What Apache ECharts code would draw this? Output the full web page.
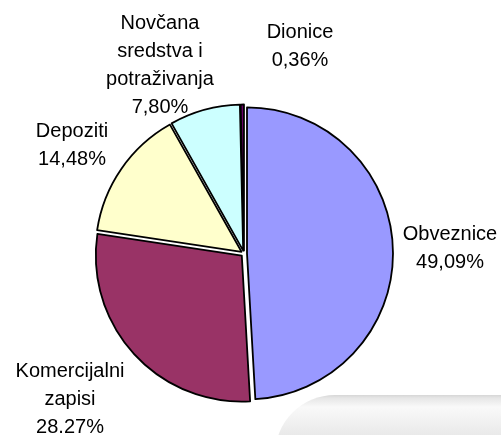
<!DOCTYPE html>
<html>
<head>
<meta charset="utf-8">
<script src="https://cdn.jsdelivr.net/npm/echarts@6/dist/echarts.min.js"></script>
<style>
html,body{margin:0;padding:0;background:#fff;}
#c{width:501px;height:435px;}
</style>
</head>
<body>
<div id="c"></div>
<script>
const categories = ['Obveznice', 'Komercijalni\nzapisi', 'Depoziti', 'Novčana\nsredstva i\npotraživanja', 'Dionice'];
const values = [49.09, 28.27, 14.48, 7.80, 0.36];
const valueLabels = ['49,09%', '28.27%', '14,48%', '7,80%', '0,36%'];
const colors = ['#9999FF', '#993366', '#FFFFCC', '#CCFFFF', '#660066'];

// label block centres (layout, not data)
const labelPos = [[450, 248], [70, 399], [72, 145], [160, 65], [300, 46]];

const labelGraphics = categories.map((n, i) => ({
  type: 'text',
  silent: true,
  z: 10,
  x: labelPos[i][0],
  y: labelPos[i][1],
  style: {
    text: n + '\n' + valueLabels[i],
    fontFamily: 'Liberation Sans',
    fontSize: 20,
    lineHeight: 28,
    fill: '#000',
    align: 'center',
    verticalAlign: 'middle'
  }
}));

const chart = echarts.init(document.getElementById('c'), null, {renderer: 'canvas'});
chart.setOption({
  animation: false,
  backgroundColor: '#ffffff',
  graphic: [{
    type: 'rect',
    z: -10,
    silent: true,
    shape: {x: 275, y: 395, width: 260, height: 100, r: [60, 0, 0, 0]},
    style: {
      fill: {
        type: 'linear', x: 0, y: 0, x2: 0, y2: 1,
        colorStops: [
          {offset: 0, color: '#d6d6d6'},
          {offset: 0.03, color: '#e6e6e6'},
          {offset: 0.12, color: '#f9f9f9'},
          {offset: 0.25, color: '#f2f2f2'},
          {offset: 0.4, color: '#e9e9e9'},
          {offset: 1, color: '#e9e9e9'}
        ]
      }
    }
  }].concat(labelGraphics),
  series: [{
    type: 'pie',
    center: [244, 253.5],
    radius: [0, 146],
    startAngle: 90,
    clockwise: true,
    selectedMode: 'multiple',
    selectedOffset: 3,
    avoidLabelOverlap: false,
    itemStyle: {borderColor: '#000', borderWidth: 1.8},
    emphasis: {disabled: true},
    labelLine: {show: false},
    label: {show: false},
    data: categories.map((n, i) => ({
      name: n,
      value: values[i],
      selected: true,
      itemStyle: {color: colors[i]}
    }))
  }]
});
</script>
</body>
</html>
